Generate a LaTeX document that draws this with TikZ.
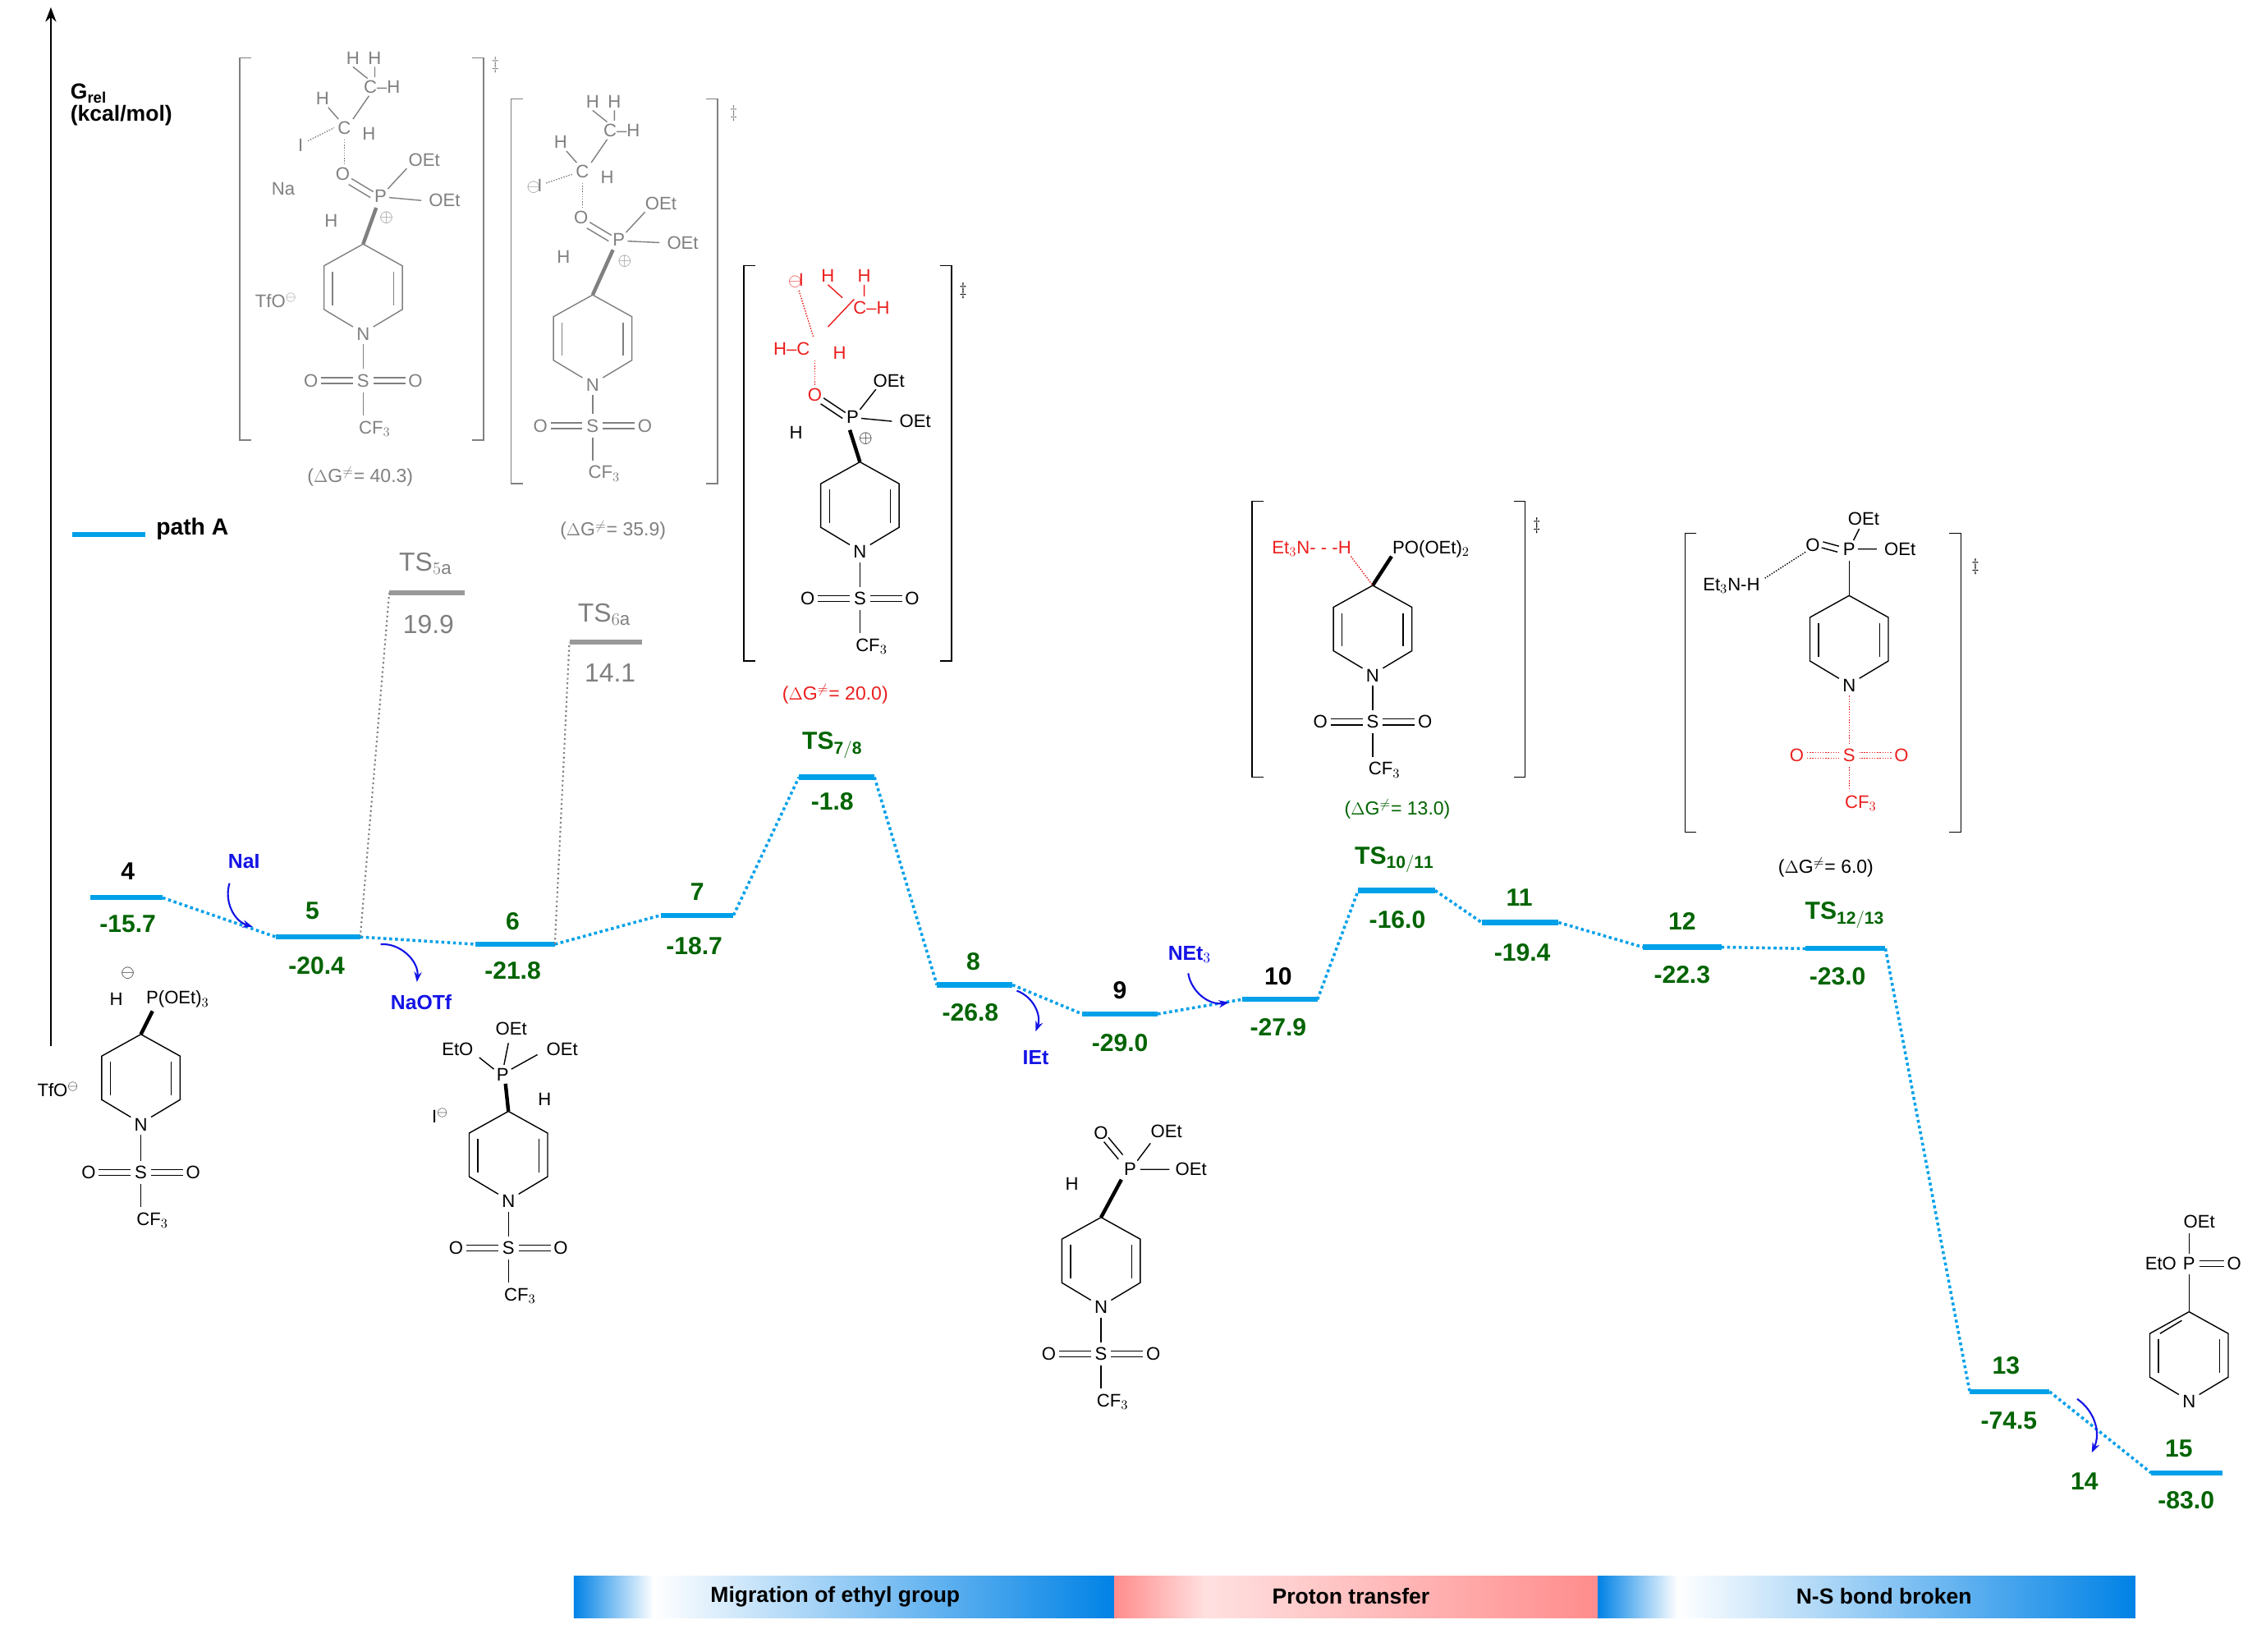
\documentclass[tikz,border=0pt]{standalone}
\usepackage{fontspec}
\setmainfont{Liberation Sans}
\usetikzlibrary{arrows.meta}
\definecolor{lv}{RGB}{0,160,233}
\definecolor{bb}{RGB}{0,130,230}
\definecolor{gn}{RGB}{0,100,0}
\definecolor{ab}{RGB}{20,20,230}
\definecolor{rd}{RGB}{235,30,30}
\tikzset{
 lvl/.style={line width=3.5pt,lv},
 con/.style={line width=2pt,lv,dotted},
 gcon/.style={line width=1.2pt,gray,dotted},
 glvl/.style={line width=3pt,gray!80},
 lab/.style={font=\fontsize{17}{17}\selectfont\bfseries,inner sep=0pt},
 num/.style={font=\fontsize{17}{17}\selectfont\bfseries,gn,inner sep=0pt},
 gnum/.style={font=\fontsize{18}{18}\selectfont,gray,inner sep=0pt},
 ch/.style={font=\fontsize{12.5}{12.5}\selectfont,inner sep=0.5pt},
 dg/.style={font=\fontsize{13}{13}\selectfont,inner sep=0pt},
 bl/.style={line width=0.8pt},
 carr/.style={-{Stealth[length=7pt]},ab,line width=1.2pt},
 ctext/.style={font=\fontsize{14}{14}\selectfont\bfseries,ab,inner sep=0pt},
 bar/.style={font=\fontsize{15}{15}\selectfont\bfseries,inner sep=0pt}
}
\newcommand\mring[5]{%
\begin{scope}[shift={(#1,#2)},#3]
\draw[bl] (0,0)--(27,15)--(27,45)--(7,57); \draw[bl] (0,0)--(-27,15)--(-27,45)--(-7,57);
\draw[bl] (21,19)--(21,42); \draw[bl] (-21,19)--(-21,42);
\node[ch] (rn) at (0,62) {N};
\draw[bl,#4] (0,69)--(0,{54+#5});
\node[ch,#4] (rs) at (0,{62+#5}) {S};
\node[ch,#4] (ro1) at (-36,{62+#5}) {O};
\node[ch,#4] (ro2) at (36,{62+#5}) {O};
\draw[bl,#4] (-29,{60+#5})--(-7,{60+#5}) (-29,{64+#5})--(-7,{64+#5});
\draw[bl,#4] (29,{60+#5})--(7,{60+#5}) (29,{64+#5})--(7,{64+#5});
\draw[bl,#4] (0,{70+#5})--(0,{86+#5});
\node[ch,#4] (rc) at (8,{95+#5}) {CF$_3$};
\end{scope}}
\begin{document}
\begin{tikzpicture}[x=1pt,y=-1pt]
\useasboundingbox (0,0) rectangle (1560,1137);
\fill[white] (0,0) rectangle (1560,1137);
% axis
\draw[-{Stealth[length=10pt]},line width=1pt] (35,720) -- (35,5);
\node[font=\fontsize{15}{15}\selectfont\bfseries,align=left,anchor=west] (ax) at (45,72) {G$_{\mathbf{rel}}$\\(kcal/mol)};
\draw[lvl] (50,368) coordinate (lg1) -- (100,368) coordinate (lg2);
\node[font=\fontsize{16}{16}\selectfont\bfseries,anchor=west] (lgt) at (104,364) {path A};
% levels
\draw[lvl] (62,618) coordinate (a4) -- (112,618) coordinate (b4);
\draw[lvl] (190,645) coordinate (a5) -- (248,645) coordinate (b5);
\draw[lvl] (327,650) coordinate (a6) -- (382,650) coordinate (b6);
\draw[lvl] (455,630) coordinate (a7) -- (505,630) coordinate (b7);
\draw[lvl] (550,535) coordinate (a78) -- (602,535) coordinate (b78);
\draw[lvl] (645,678) coordinate (a8) -- (697,678) coordinate (b8);
\draw[lvl] (745,698) coordinate (a9) -- (797,698) coordinate (b9);
\draw[lvl] (855,688) coordinate (a10) -- (907,688) coordinate (b10);
\draw[lvl] (935,613) coordinate (a1011) -- (988,613) coordinate (b1011);
\draw[lvl] (1020,635) coordinate (a11) -- (1073,635) coordinate (b11);
\draw[lvl] (1131,652) coordinate (a12) -- (1185,652) coordinate (b12);
\draw[lvl] (1243,653) coordinate (a1213) -- (1298,653) coordinate (b1213);
\draw[lvl] (1356,958) coordinate (a13) -- (1411,958) coordinate (b13);
\draw[lvl] (1481,1014) coordinate (a15) -- (1530,1014) coordinate (b15);
\draw[con] (b4)--(a5); \draw[con] (b5)--(a6); \draw[con] (b6)--(a7);
\draw[con] (b7)--(a78); \draw[con] (b78)--(a8); \draw[con] (b8)--(a9);
\draw[con] (b9)--(a10); \draw[con] (b10)--(a1011); \draw[con] (b1011)--(a11);
\draw[con] (b11)--(a12); \draw[con] (b12)--(a1213); \draw[con] (b1213)--(a13);
\draw[con] (b13)--(a15);
% gray TS
\draw[glvl] (268,408) coordinate (a5a) -- (320,408) coordinate (b5a);
\draw[glvl] (392,442) coordinate (a6a) -- (442,442) coordinate (b6a);
\draw[gcon] (b5)--(a5a); \draw[gcon] (b6)--(a6a);
\node[gnum] (t5a) at (293,388) {TS$_{5\mathrm{a}}$};
\node[gnum] (n5a) at (295,430) {19.9};
\node[gnum] (t6a) at (416,423) {TS$_{6\mathrm{a}}$};
\node[gnum] (n6a) at (420,463) {14.1};
% labels
\node[lab] at (88,600) {4}; \node[num] at (88,636) {-15.7};
\node[lab,gn] at (215,627) {5}; \node[num] at (218,665) {-20.4};
\node[lab,gn] at (353,634) {6}; \node[num] at (353,668) {-21.8};
\node[lab,gn] at (480,614) {7}; \node[num] at (478,651) {-18.7};
\node[lab,gn] at (573,513) {TS$_{\mathbf{7/8}}$}; \node[num] at (573,552) {-1.8};
\node[lab,gn] at (670,662) {8}; \node[num] at (668,697) {-26.8};
\node[lab] at (771,682) {9}; \node[num] at (771,718) {-29.0};
\node[lab] at (880,672) {10}; \node[num] at (880,707) {-27.9};
\node[lab,gn] at (960,592) {TS$_{\mathbf{10/11}}$}; \node[num] at (962,633) {-16.0};
\node[lab,gn] at (1046,618) {11}; \node[num] at (1048,656) {-19.4};
\node[lab,gn] at (1158,634) {12}; \node[num] at (1158,671) {-22.3};
\node[lab,gn] at (1270,630) {TS$_{\mathbf{12/13}}$}; \node[num] at (1265,672) {-23.0};
\node[lab,gn] at (1381,940) {13}; \node[num] at (1383,978) {-74.5};
\node[lab,gn] at (1500,997) {15}; \node[num] at (1505,1033) {-83.0};
\node[lab,gn] at (1435,1020) {14};
% curved arrows
\node[ctext] (nai) at (168,593) {NaI};
\draw[carr] (158,608) to[bend right=45] (174,638);
\node[ctext] (naotf) at (290,690) {NaOTf};
\draw[carr] (262,650) to[bend left=50] (287,676);
\node[ctext] (iet) at (713,728) {IEt};
\draw[carr] (700,682) to[bend left=45] (713,710);
\node[ctext] (net) at (819,657) {NEt$_3$};
\draw[carr] (818,670) to[bend right=45] (846,690);
\draw[carr] (1430,963) to[bend left=40] (1440,1000);
% bottom bars
\shade[left color=bb,right color=white] (395,1085) rectangle (450,1114);
\shade[left color=white,right color=bb] (450,1085) rectangle (767,1114);
\shade[left color=red!45,right color=red!12] (767,1085) rectangle (830,1114);
\shade[left color=red!12,right color=red!45] (830,1085) rectangle (1100,1114);
\shade[left color=bb,right color=white] (1100,1085) rectangle (1155,1114);
\shade[left color=white,right color=bb] (1155,1085) rectangle (1470,1114);
\node[bar] (m1) at (575,1099) {Migration of ethyl group};
\node[bar] (m2) at (930,1099) {Proton transfer};
\node[bar] (m3) at (1297,1099) {N-S bond broken};
% molecule 4
\mring{97}{712}{}{}{33}
\node[ch] at (80,688) {H}; \node[ch] at (88,670) {$\ominus$};
\node[ch,anchor=west] at (100,688) {P(OEt)$_3$};
\draw[line width=2.5pt] (97,712)--(105,696);
\node[ch] at (40,750) {TfO$^{\ominus}$};
% molecule 6
\mring{350}{765}{}{}{32}
\draw[line width=2.5pt] (350,765)--(348,746);
\node[ch] (p6) at (346,740) {P};
\node[ch] at (352,708) {OEt}; \draw[bl] (350,718)--(347,733);
\node[ch] at (315,722) {EtO}; \node[ch] at (387,722) {OEt};
\draw[bl] (340,736)--(330,728) (352,736)--(370,726);
\node[ch] at (375,757) {H}; \node[ch] at (303,768) {I$^{\ominus}$};
% molecule 9
\mring{758}{838}{}{}{32}
\draw[line width=2.5pt] (758,838)--(772,812);
\node[ch] (p9) at (778,805) {P};
\node[ch] at (803,779) {OEt}; \node[ch] at (820,805) {OEt};
\draw[bl] (783,799)--(792,787) (785,805)--(805,805);
\draw[bl] (770,798)--(760,786) (773,795)--(763,783); \node[ch] at (758,780) {O};
\node[ch] at (738,815) {H};
% molecule 15 (pyridine)
\begin{scope}[shift={(1507,903)}]
\draw[bl] (0,0)--(27,15)--(27,45)--(7,57); \draw[bl] (0,0)--(-27,15)--(-27,45)--(-7,57);
\draw[bl] (21,19)--(21,42); \draw[bl] (-21,19)--(-21,42); \draw[bl] (-5,6)--(-20,15);
\node[ch] (n15) at (0,62) {N};
\draw[bl] (0,0)--(0,-26); \node[ch] (p15) at (0,-33) {P};
\node[ch] at (7,-62) {OEt}; \draw[bl] (0,-40)--(0,-54);
\node[ch,anchor=east] at (-8,-33) {EtO};
\draw[bl] (7,-35)--(24,-35) (7,-31)--(24,-31); \node[ch] at (31,-33) {O};
\end{scope}
% TS1 gray
\begin{scope}[gray]
\draw[bl] (173,40)--(165,40)--(165,303)--(173,303);
\draw[bl] (325,40)--(333,40)--(333,303)--(325,303);
\node[ch] at (341,45) {$\ddagger$};
\node[ch] at (243,40) {H}; \node[ch] at (258,40) {H};
\node[ch] at (263,60) {C--H}; \node[ch] at (222,68) {H};
\draw[bl] (243,82)--(254,66) (226,74)--(233,82) (243,46)--(253,54) (258,46)--(258,53);
\node[ch] at (237,88) {C}; \node[ch] at (254,92) {H};
\draw[bl,densely dotted] (212,97)--(230,88);
\node[ch] at (207,100) {I}; \node[ch] at (195,130) {Na};
\draw[bl,densely dotted] (237,96)--(237,113);
\node[ch] at (236,120) {O}; \draw[bl] (242,123)--(257,132) (240,127)--(255,136);
\node[ch] at (262,135) {P}; \node[ch] at (266,150) {$\oplus$};
\draw[bl] (267,130)--(280,116) (268,136)--(290,138);
\node[ch] at (292,110) {OEt}; \node[ch] at (306,138) {OEt};
\node[ch] at (228,152) {H}; \node[ch] at (190,207) {TfO$^{\ominus}$};
\draw[line width=2.5pt] (250,168)--(259,143);
\end{scope}
\mring{250}{168}{gray}{}{32}
\node[dg,gray] at (248,328) {($\Delta$G$^{\neq}$= 40.3)};
% TS2 gray
\begin{scope}[gray]
\draw[bl] (360,68)--(352,68)--(352,333)--(360,333);
\draw[bl] (486,68)--(494,68)--(494,333)--(486,333);
\node[ch] at (505,78) {$\ddagger$};
\node[ch] at (408,70) {H}; \node[ch] at (423,70) {H};
\node[ch] at (428,90) {C--H}; \node[ch] at (386,98) {H};
\draw[bl] (407,112)--(418,96) (390,104)--(397,112) (408,76)--(418,84) (423,76)--(423,83);
\node[ch] at (401,118) {C}; \node[ch] at (418,122) {H};
\node[ch] at (368,128) {$\ominus$\!I}; \draw[bl,densely dotted] (376,126)--(394,120);
\draw[bl,densely dotted] (401,126)--(401,143);
\node[ch] at (400,150) {O}; \draw[bl] (406,153)--(421,162) (404,157)--(419,166);
\node[ch] at (426,165) {P}; \node[ch] at (430,180) {$\oplus$};
\draw[bl] (431,160)--(444,146) (432,166)--(454,167);
\node[ch] at (455,140) {OEt}; \node[ch] at (470,167) {OEt};
\node[ch] at (388,177) {H};
\draw[line width=2.5pt] (408,203)--(422,172);
\end{scope}
\mring{408}{203}{gray}{}{28}
\node[dg,gray] at (422,365) {($\Delta$G$^{\neq}$= 35.9)};
% TS7/8
\draw[bl] (520,183)--(512,183)--(512,455)--(520,455);
\draw[bl] (647,183)--(655,183)--(655,455)--(647,455);
\node[ch] at (663,200) {$\ddagger$};
\begin{scope}[rd]
\node[ch] at (548,193) {$\ominus$\!I}; \node[ch] at (570,190) {H}; \node[ch] at (595,190) {H};
\node[ch] at (600,212) {C--H}; \node[ch] at (545,240) {H--C}; \node[ch] at (578,243) {H};
\draw[bl,densely dotted] (550,200)--(560,232); \draw[bl] (570,225)--(588,206);
\draw[bl] (570,196)--(580,205) (595,196)--(595,204);
\draw[bl,densely dotted] (561,248)--(561,265);
\node[ch] at (561,272) {O};
\end{scope}
\draw[bl] (567,274)--(582,284) (565,278)--(580,288);
\node[ch] at (587,287) {P}; \node[ch] at (596,302) {$\oplus$};
\draw[bl] (592,282)--(603,268) (593,288)--(614,290);
\node[ch] at (612,262) {OEt}; \node[ch] at (630,290) {OEt};
\node[ch] at (548,298) {H};
\draw[line width=2.5pt] (592,318)--(585,296);
\mring{592}{318}{}{}{32}
\node[dg,rd] at (575,478) {($\Delta$G$^{\neq}$= 20.0)};
% TS10/11
\draw[bl] (870,345)--(862,345)--(862,535)--(870,535);
\draw[bl] (1042,345)--(1050,345)--(1050,535)--(1042,535);
\node[ch] at (1058,362) {$\ddagger$};
\node[ch,rd] at (903,378) {Et$_3$N- - -H};
\node[ch,anchor=west] at (958,378) {PO(OEt)$_2$};
\draw[line width=2.5pt] (945,403)--(958,383);
\draw[bl,rd,densely dotted] (930,383)--(945,403);
\mring{945}{403}{}{}{32}
\node[dg,gn] at (962,557) {($\Delta$G$^{\neq}$= 13.0)};
% TS12/13
\draw[bl] (1168,367)--(1160,367)--(1160,573)--(1168,573);
\draw[bl] (1342,367)--(1350,367)--(1350,573)--(1342,573);
\node[ch] at (1360,390) {$\ddagger$};
\node[ch] at (1192,403) {Et$_3$N-H};
\draw[bl,densely dotted] (1215,398)--(1243,380);
\node[ch] at (1248,375) {O}; \draw[bl] (1255,373)--(1266,376) (1254,377)--(1265,380);
\node[ch] (p12) at (1273,378) {P};
\node[ch] at (1283,357) {OEt}; \node[ch] at (1308,378) {OEt};
\draw[bl] (1276,372)--(1280,364) (1279,378)--(1292,378);
\draw[bl] (1273,386)--(1273,410);
\mring{1273}{410}{}{rd,densely dotted}{48}
\node[dg] at (1257,597) {($\Delta$G$^{\neq}$= 6.0)};
\end{tikzpicture}
\end{document}
